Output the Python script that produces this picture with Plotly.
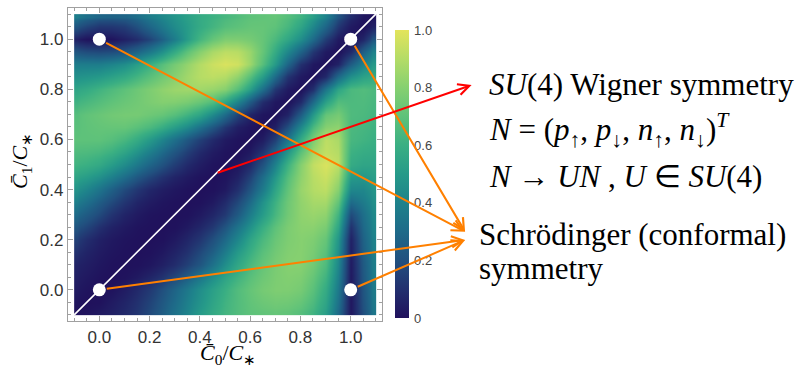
import plotly.graph_objects as go

# ---- data ----
# grid of C0/C* (columns) and C1/C* (rows), step 0.05
c0_grid = [-0.1, -0.05, 0.0, 0.05, 0.1, 0.15, 0.2, 0.25, 0.3, 0.35, 0.4, 0.45, 0.5,
           0.55, 0.6, 0.65, 0.7, 0.75, 0.8, 0.85, 0.9, 0.95, 1.0, 1.05, 1.1]
c1_grid = [-0.1, -0.05, 0.0, 0.05, 0.1, 0.15, 0.2, 0.25, 0.3, 0.35, 0.4, 0.45, 0.5,
           0.55, 0.6, 0.65, 0.7, 0.75, 0.8, 0.85, 0.9, 0.95, 1.0, 1.05, 1.1]

# entanglement power read row by row (C1 fixed, C0 increasing)
E_m010 = [0.00, 0.01, 0.03, 0.05, 0.08, 0.12, 0.18, 0.25, 0.33, 0.41, 0.50, 0.57, 0.63, 0.67, 0.70, 0.71, 0.72, 0.71, 0.68, 0.62, 0.52, 0.30, 0.02, 0.20, 0.35]
E_m005 = [0.01, 0.00, 0.005, 0.035, 0.065, 0.105, 0.16, 0.23, 0.305, 0.39, 0.47, 0.55, 0.62, 0.67, 0.71, 0.735, 0.75, 0.745, 0.72, 0.655, 0.55, 0.33, 0.02, 0.21, 0.36]
E_000 = [0.03, 0.01, 0.00, 0.01, 0.04, 0.08, 0.13, 0.20, 0.28, 0.36, 0.45, 0.53, 0.60, 0.67, 0.72, 0.76, 0.78, 0.78, 0.76, 0.69, 0.58, 0.36, 0.02, 0.22, 0.37]
E_005 = [0.045, 0.025, 0.008, 0.00, 0.008, 0.03, 0.065, 0.11, 0.175, 0.25, 0.345, 0.45, 0.545, 0.62, 0.69, 0.74, 0.775, 0.79, 0.78, 0.72, 0.62, 0.39, 0.025, 0.23, 0.375]
E_010 = [0.06, 0.04, 0.02, 0.005, 0.00, 0.005, 0.02, 0.05, 0.09, 0.15, 0.22, 0.33, 0.45, 0.56, 0.65, 0.72, 0.77, 0.80, 0.80, 0.75, 0.66, 0.42, 0.03, 0.24, 0.38]
E_015 = [0.10, 0.06, 0.033, 0.015, 0.004, 0.00, 0.005, 0.025, 0.06, 0.105, 0.175, 0.26, 0.375, 0.50, 0.60, 0.69, 0.75, 0.79, 0.80, 0.765, 0.69, 0.45, 0.04, 0.255, 0.39]
E_020 = [0.15, 0.09, 0.05, 0.025, 0.01, 0.003, 0.00, 0.005, 0.03, 0.07, 0.12, 0.20, 0.30, 0.42, 0.55, 0.65, 0.73, 0.78, 0.80, 0.78, 0.72, 0.48, 0.05, 0.27, 0.40]
E_025 = [0.22, 0.165, 0.10, 0.055, 0.028, 0.01, 0.003, 0.00, 0.005, 0.03, 0.07, 0.125, 0.22, 0.34, 0.465, 0.595, 0.70, 0.775, 0.81, 0.81, 0.77, 0.55, 0.10, 0.295, 0.415]
E_030 = [0.30, 0.24, 0.18, 0.11, 0.06, 0.03, 0.01, 0.003, 0.00, 0.005, 0.03, 0.07, 0.13, 0.24, 0.38, 0.51, 0.64, 0.75, 0.82, 0.84, 0.82, 0.62, 0.18, 0.32, 0.43]
E_035 = [0.385, 0.32, 0.25, 0.18, 0.115, 0.065, 0.035, 0.015, 0.004, 0.00, 0.005, 0.03, 0.085, 0.175, 0.305, 0.465, 0.61, 0.74, 0.825, 0.87, 0.87, 0.71, 0.30, 0.37, 0.455]
E_040 = [0.47, 0.41, 0.34, 0.26, 0.18, 0.12, 0.07, 0.04, 0.02, 0.005, 0.00, 0.005, 0.03, 0.10, 0.22, 0.37, 0.55, 0.71, 0.84, 0.90, 0.92, 0.80, 0.42, 0.42, 0.48]
E_045 = [0.545, 0.51, 0.46, 0.39, 0.31, 0.23, 0.165, 0.105, 0.06, 0.03, 0.008, 0.00, 0.012, 0.055, 0.155, 0.31, 0.49, 0.675, 0.82, 0.91, 0.95, 0.86, 0.50, 0.485, 0.515]
E_050 = [0.62, 0.60, 0.57, 0.51, 0.44, 0.36, 0.28, 0.21, 0.14, 0.08, 0.04, 0.01, 0.00, 0.02, 0.08, 0.21, 0.40, 0.61, 0.80, 0.93, 0.98, 0.92, 0.58, 0.55, 0.55]
E_055 = [0.66, 0.655, 0.64, 0.605, 0.545, 0.47, 0.385, 0.30, 0.22, 0.145, 0.08, 0.035, 0.009, 0.00, 0.03, 0.115, 0.28, 0.49, 0.695, 0.86, 0.93, 0.90, 0.61, 0.585, 0.575]
E_060 = [0.70, 0.70, 0.70, 0.68, 0.64, 0.58, 0.50, 0.41, 0.32, 0.23, 0.15, 0.08, 0.03, 0.008, 0.00, 0.04, 0.15, 0.35, 0.58, 0.78, 0.92, 0.88, 0.64, 0.62, 0.60]
E_065 = [0.69, 0.705, 0.715, 0.72, 0.72, 0.69, 0.65, 0.59, 0.515, 0.435, 0.33, 0.225, 0.12, 0.045, 0.012, 0.00, 0.05, 0.20, 0.425, 0.65, 0.80, 0.82, 0.65, 0.635, 0.615]
E_070 = [0.68, 0.71, 0.73, 0.75, 0.76, 0.76, 0.74, 0.72, 0.68, 0.62, 0.55, 0.43, 0.30, 0.16, 0.06, 0.015, 0.00, 0.06, 0.25, 0.50, 0.72, 0.76, 0.66, 0.65, 0.63]
E_075 = [0.615, 0.645, 0.675, 0.705, 0.73, 0.75, 0.775, 0.795, 0.79, 0.77, 0.73, 0.675, 0.555, 0.41, 0.24, 0.09, 0.022, 0.00, 0.08, 0.30, 0.53, 0.67, 0.655, 0.66, 0.64]
E_080 = [0.55, 0.58, 0.62, 0.66, 0.70, 0.74, 0.78, 0.82, 0.85, 0.86, 0.86, 0.84, 0.80, 0.68, 0.52, 0.32, 0.12, 0.03, 0.00, 0.10, 0.35, 0.55, 0.65, 0.67, 0.65]
E_085 = [0.465, 0.48, 0.50, 0.535, 0.575, 0.63, 0.69, 0.75, 0.805, 0.86, 0.905, 0.92, 0.90, 0.825, 0.68, 0.51, 0.30, 0.11, 0.028, 0.00, 0.08, 0.30, 0.46, 0.535, 0.575]
E_090 = [0.38, 0.38, 0.38, 0.41, 0.45, 0.52, 0.60, 0.68, 0.76, 0.83, 0.90, 0.95, 0.98, 0.96, 0.85, 0.68, 0.50, 0.28, 0.10, 0.025, 0.00, 0.06, 0.25, 0.40, 0.50]
E_095 = [0.22, 0.19, 0.18, 0.19, 0.22, 0.28, 0.36, 0.46, 0.58, 0.70, 0.80, 0.88, 0.92, 0.91, 0.84, 0.72, 0.58, 0.42, 0.27, 0.12, 0.03, 0.00, 0.08, 0.26, 0.40]
E_100 = [0.05, 0.01, 0.00, 0.01, 0.05, 0.09, 0.16, 0.26, 0.38, 0.51, 0.63, 0.72, 0.78, 0.78, 0.76, 0.72, 0.65, 0.56, 0.45, 0.30, 0.14, 0.03, 0.00, 0.07, 0.22]
E_105 = [0.22, 0.16, 0.12, 0.12, 0.14, 0.20, 0.28, 0.36, 0.44, 0.51, 0.58, 0.63, 0.68, 0.70, 0.72, 0.72, 0.70, 0.64, 0.55, 0.42, 0.28, 0.12, 0.03, 0.00, 0.06]
E_110 = [0.38, 0.32, 0.28, 0.27, 0.28, 0.32, 0.38, 0.43, 0.48, 0.53, 0.58, 0.61, 0.64, 0.67, 0.70, 0.71, 0.72, 0.68, 0.62, 0.52, 0.40, 0.22, 0.09, 0.02, 0.00]

# symmetry points
sym_c0 = [0.0, 0.0, 1.0, 1.0]
sym_c1 = [0.0, 1.0, 0.0, 1.0]
# SU(4) line C0 = C1
diag_c = [-0.1, 1.1]
su4_point = [0.465, 0.465]

cbar_vals = [0, 0.2, 0.4, 0.6, 0.8, 1.0]
cbar_text = ["0", "0.2", "0.4", "0.6", "0.8", "1.0"]

# ---- figure ----
z = [E_m010, E_m005, E_000, E_005, E_010, E_015, E_020, E_025, E_030, E_035,
     E_040, E_045, E_050, E_055, E_060, E_065, E_070, E_075, E_080, E_085,
     E_090, E_095, E_100, E_105, E_110]


def edges(g):
    return [g[0]] + [(a + b) / 2 for a, b in zip(g, g[1:])] + [g[-1]]


cscale = [
    [0.0, "#20115c"], [0.1, "#22306f"], [0.2, "#21507f"], [0.3, "#1e6a89"],
    [0.4, "#1e828b"], [0.5, "#269a89"], [0.6, "#3aaf83"], [0.7, "#5ec27a"],
    [0.8, "#86d070"], [0.9, "#b4dc66"], [1.0, "#e3e45c"],
]

fig = go.Figure()
fig.add_trace(go.Heatmap(
    x=edges(c0_grid), y=edges(c1_grid), z=z, zsmooth="best",
    colorscale=cscale, zmin=0, zmax=1,
    colorbar=dict(
        x=1.0414, xanchor="left", xpad=0, ypad=0,
        y=0.9297, yanchor="top", len=288, lenmode="pixels",
        thickness=14, outlinewidth=0,
        tickvals=cbar_vals, ticktext=cbar_text,
        ticks="outside", ticklen=3, tickcolor="rgba(0,0,0,0)",
        tickfont=dict(family="Liberation Sans", size=13, color="#444"),
    ),
))
fig.add_trace(go.Scatter(x=diag_c, y=diag_c, mode="lines",
                         line=dict(color="white", width=1.6),
                         showlegend=False, hoverinfo="skip"))
fig.add_trace(go.Scatter(x=sym_c0, y=sym_c1, mode="markers",
                         marker=dict(color="white", size=13),
                         showlegend=False, hoverinfo="skip"))

ORANGE = "#ff8000"
targets = {  # arrow heads, in axis units (outside the frame, next to labels)
    "schro_hi": (1.455, 0.232),
    "schro_lo": (1.455, 0.199),
    "su4": (1.481, 0.817),
}
arrows = [
    (sym_c0[1], sym_c1[1], "schro_hi", ORANGE),
    (sym_c0[3], sym_c1[3], "schro_hi", ORANGE),
    (sym_c0[0], sym_c1[0], "schro_lo", ORANGE),
    (sym_c0[2], sym_c1[2], "schro_lo", ORANGE),
]
annotations = []
for tx, ty, key, col in arrows:
    hx, hy = targets[key]
    annotations.append(dict(
        x=hx, y=hy, xref="x", yref="y", ax=tx, ay=ty, axref="x", ayref="y",
        text="", showarrow=True, arrowhead=5, arrowsize=1.1, arrowwidth=2,
        arrowcolor=col, startstandoff=6, standoff=0))
annotations.append(dict(
    x=targets["su4"][0], y=targets["su4"][1], xref="x", yref="y",
    ax=su4_point[0], ay=su4_point[1], axref="x", ayref="y",
    text="", showarrow=True, arrowhead=5, arrowsize=1.1, arrowwidth=2,
    arrowcolor="#ff0000", standoff=0))

SERIF = "Liberation Serif"


def px_x(p):
    return (p - 68) / 314


def px_y(p):
    return (321 - p) / 313


labels = [
    ("<i>SU</i>(4) Wigner symmetry", 487, 84, 31),
    ("<i>N</i> = (<i>p</i><sub>↑</sub>, <i>p</i><sub>↓</sub>, <i>n</i><sub>↑</sub>, <i>n</i><sub>↓</sub>)<sup><i>T</i></sup>", 487, 130, 31),
    ("<i>N</i> → <i>UN</i> , <i>U</i> ∈ <i>SU</i>(4)", 487, 176, 31),
    ("Schrödinger (conformal)", 477, 234, 31),
    ("symmetry", 477, 268, 31),
]
for txt, lx, ly, fs in labels:
    annotations.append(dict(
        x=px_x(lx), y=px_y(ly), xref="paper", yref="paper",
        xanchor="left", yanchor="middle", text=txt, showarrow=False,
        font=dict(family=SERIF, size=fs, color="black")))

# axis titles
annotations.append(dict(
    x=px_x(228), y=px_y(354), xref="paper", yref="paper",
    xanchor="center", yanchor="middle", showarrow=False,
    text="<i>C̄</i><sub>0</sub>/<i>C</i><sub>∗</sub>",
    font=dict(family=SERIF, size=22, color="black")))
annotations.append(dict(
    x=px_x(21), y=px_y(161), xref="paper", yref="paper",
    xanchor="center", yanchor="middle", showarrow=False, textangle=-90,
    text="<i>C̄</i><sub>1</sub>/<i>C</i><sub>∗</sub>",
    font=dict(family=SERIF, size=22, color="black")))

axis_common = dict(
    automargin=False,
    showline=True, linecolor="#a0a0a0", linewidth=1.3, mirror="ticks",
    ticks="inside", ticklen=5, tickwidth=1, tickcolor="#a0a0a0",
    showgrid=False, zeroline=False,
    tick0=0, dtick=0.2, tickformat=".1f",
    minor=dict(ticks="inside", ticklen=3, dtick=0.05, tickcolor="#a0a0a0",
               showgrid=False),
    tickfont=dict(family="Liberation Sans", size=17, color="#333"),
)
fig.update_xaxes(range=[-0.1245, 1.1245], **axis_common)
fig.update_yaxes(range=[-0.1245, 1.1245], **axis_common)

fig.update_layout(
    width=810, height=370,
    margin=dict(l=68, r=428, t=8, b=49, autoexpand=False),
    paper_bgcolor="white", plot_bgcolor="white",
    annotations=annotations, showlegend=False,
)

fig.write_html("out.html", config={"displayModeBar": False},
               post_script="document.body.style.margin='0px';")
